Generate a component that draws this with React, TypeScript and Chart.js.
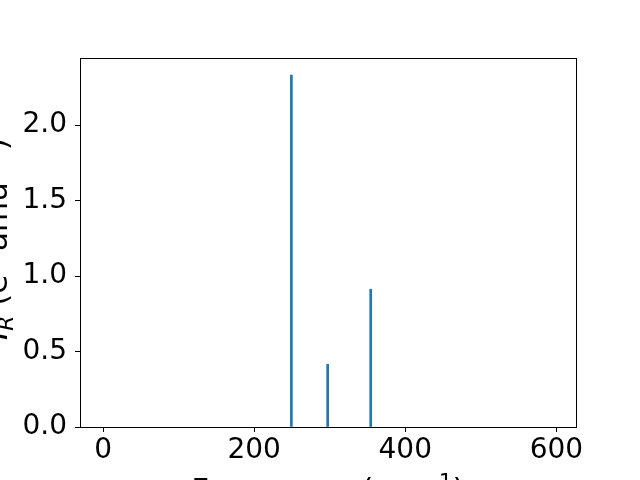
import React, { useEffect, useRef } from "react";
import { Chart, registerables } from "chart.js";

Chart.register(...registerables);

const FREQUENCIES = [249.3, 297.3, 354.3];
const INTENSITIES = [2.332, 0.416, 0.913];
const X_TICKS = [0, 200, 400, 600];
const Y_TICKS = [0, 0.5, 1.0, 1.5, 2.0];
const X_LABEL = ["Frequency (cm", "−1", ")"];
const Y_LABEL = ["I", "R", " (e", "2", " amu", "−1", ")"];

const FONT = "DejaVu Sans";
const LBL = 31;
const SUB = 21.7;

type Seg = { t: string; size: number; dy: number; italic?: boolean };

function drawSegs(ctx: CanvasRenderingContext2D, segs: Seg[], cx: number) {
  let total = 0;
  const widths = segs.map((s) => {
    ctx.font = `${s.italic ? "italic " : ""}${s.size}px "${FONT}"`;
    const w = ctx.measureText(s.t).width;
    total += w;
    return w;
  });
  let x = cx - total / 2;
  segs.forEach((s, i) => {
    ctx.font = `${s.italic ? "italic " : ""}${s.size}px "${FONT}"`;
    ctx.fillText(s.t, x, s.dy);
    x += widths[i];
  });
}

const framePlugin = {
  id: "frame",
  afterDraw(chart: any) {
    const { ctx, chartArea } = chart;
    ctx.save();
    ctx.strokeStyle = "#000";
    ctx.lineWidth = 1;
    ctx.strokeRect(
      Math.round(chartArea.left) + 0.5,
      Math.round(chartArea.top) + 0.5,
      Math.round(chartArea.right - chartArea.left),
      Math.round(chartArea.bottom - chartArea.top)
    );
    ctx.fillStyle = "#000";
    ctx.textBaseline = "alphabetic";
    ctx.textAlign = "left";
    const cx = (chartArea.left + chartArea.right) / 2;
    const cy = (chartArea.top + chartArea.bottom) / 2;
    // x label
    ctx.save();
    ctx.translate(0, 500);
    drawSegs(
      ctx,
      [
        { t: X_LABEL[0], size: LBL, dy: 0 },
        { t: X_LABEL[1], size: SUB, dy: -11.5 },
        { t: X_LABEL[2], size: LBL, dy: 0 },
      ],
      cx
    );
    ctx.restore();
    // y label
    ctx.save();
    ctx.translate(7, cy - 3.5);
    ctx.rotate(-Math.PI / 2);
    drawSegs(
      ctx,
      [
        { t: Y_LABEL[0], size: LBL, dy: 0, italic: true },
        { t: Y_LABEL[1], size: SUB, dy: 6, italic: true },
        { t: Y_LABEL[2], size: LBL, dy: 0 },
        { t: Y_LABEL[3], size: SUB, dy: -11.5 },
        { t: Y_LABEL[4], size: LBL, dy: 0 },
        { t: Y_LABEL[5], size: SUB, dy: -11.5 },
        { t: Y_LABEL[6], size: LBL, dy: 0 },
      ],
      0
    );
    ctx.restore();
    ctx.restore();
  },
};

export default function App() {
  const ref = useRef<HTMLCanvasElement | null>(null);
  useEffect(() => {
    if (!ref.current) return;
    const chart = new Chart(ref.current, {
      type: "bar",
      data: {
        datasets: [
          {
            data: FREQUENCIES.map((f, i) => ({ x: f, y: INTENSITIES[i] })),
            backgroundColor: "#1f77b4",
            borderWidth: 0,
            barThickness: 2,
          },
        ],
      },
      options: {
        animation: false,
        responsive: false,
        maintainAspectRatio: false,
        layout: { padding: { top: 58, right: 64, left: 0, bottom: 0 } },
        plugins: { legend: { display: false }, tooltip: { enabled: false } },
        scales: {
          x: {
            type: "linear",
            min: -30.5,
            max: 626,
            offset: false,
            grid: {
              display: true,
              offset: false,
              drawOnChartArea: false,
              drawTicks: true,
              tickLength: 5,
              color: "#000",
            },
            border: { display: true, color: "#000", width: 1 },
            ticks: {
              color: "#000",
              font: { family: FONT, size: 28 },
              padding: 2,
              maxRotation: 0,
              autoSkip: false,
            },
            afterBuildTicks: (scale: any) => {
              scale.ticks = X_TICKS.map((v) => ({ value: v }));
            },
            afterFit: (scale: any) => {
              scale.height = 53;
            },
          },
          y: {
            type: "linear",
            min: 0,
            max: 2.445,
            grid: {
              display: true,
              drawOnChartArea: false,
              drawTicks: true,
              tickLength: 5,
              color: "#000",
            },
            border: { display: true, color: "#000", width: 1 },
            ticks: {
              color: "#000",
              font: { family: FONT, size: 28 },
              padding: 8,
              callback: (v: any) => Number(v).toFixed(1),
            },
            afterBuildTicks: (scale: any) => {
              scale.ticks = Y_TICKS.map((v) => ({ value: v }));
            },
            afterFit: (scale: any) => {
              scale.width = 80;
            },
          },
        },
      },
      plugins: [framePlugin],
    });
    return () => chart.destroy();
  }, []);
  return (
    <div style={{ position: "fixed", left: 0, top: 0, width: 640, height: 480, background: "#fff" }}>
      <canvas ref={ref} width={640} height={480} style={{ width: 640, height: 480 }} />
    </div>
  );
}
